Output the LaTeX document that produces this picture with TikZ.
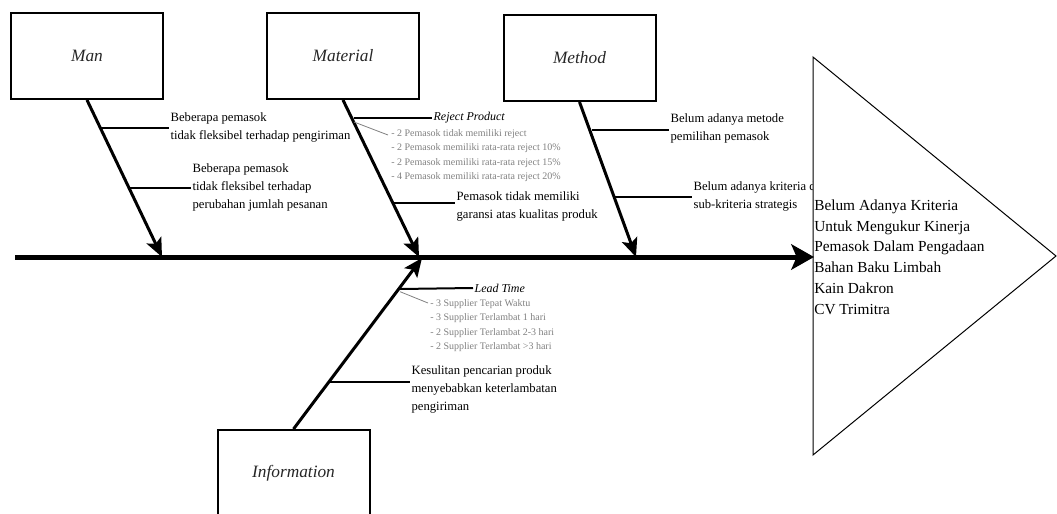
\documentclass[tikz,border=0pt]{standalone}
\usepackage{fontspec}
\setmainfont{Liberation Serif}
\usetikzlibrary{arrows.meta}
\tikzset{
  cause/.style={draw, line width=1.5pt, minimum width=114pt, minimum height=64.5pt,
                font=\fontsize{13}{15}\selectfont\itshape, text=black!85},
  bone/.style={line width=2.25pt, -{Stealth[length=14pt,width=12pt,inset=3pt]}},
  spine/.style={line width=3.75pt, -{Stealth[length=17pt,width=19pt,inset=4pt]}},
  twig/.style={line width=1.5pt},
  why/.style={anchor=west, align=left, inner sep=1pt, font=\fontsize{9.5}{13.5}\selectfont},
  hint/.style={draw=gray, line width=0.6pt},
  hinttxt/.style={anchor=north west, align=left, inner sep=0pt, text=gray,
                  font=\fontsize{7.5}{10.9}\selectfont},
  topic/.style={anchor=west, inner sep=1pt, font=\fontsize{9}{11}\selectfont\itshape}
}
\begin{document}
\begin{tikzpicture}[x=0.75pt,y=-0.75pt]
        \useasboundingbox (0,0) rectangle (1057,514);                   %
        \clip (0,0) rectangle (1057,514);                               %
        \node [cause] (man)      at (87,56)    {Man};                   %
        \node [cause] (material) at (343,56)   {Material};              %
        \node [cause] (method)   at (579.5,58) {Method};                %
        \node [cause] (info)     at (293.5,473){Information};           %
        \coordinate (tail)   at (15,257);                               %spine
        \coordinate (manTip) at (162,257);                              %
        \coordinate (matTip) at (419,257);                              %
        \coordinate (metTip) at (636,257);                              %
        \coordinate (infTip) at (422,258);                              %
        \draw [bone] (man.south)      -- (manTip);                      %
        \draw [bone] (material.south) -- (matTip);                      %
        \draw [bone] (method.south)   -- (metTip);                      %
        \draw [bone] (info.north)     -- (infTip);                      %
        %Man
        \coordinate (manA) at (101,128);                                %
        \coordinate (manB) at (130,188);                                %
        \node [why] (why1) at (169,127) {Beberapa pemasok\\tidak fleksibel terhadap pengiriman};
        \node [why] (why2) at (191,187) {Beberapa pemasok\\tidak fleksibel terhadap\\perubahan jumlah pesanan};
        \draw [twig] (manA) -- (manA -| why1.west);                     %
        \draw [twig] (manB) -- (manB -| why2.west);                     %
        %Material
        \coordinate (matA) at (354,118);                                %
        \coordinate (matB) at (394,203);                                %
        \coordinate (rpEnd) at (388,135);                               %
        \node [topic] (rp) at (432,118) {Reject Product};               %
        \node [hinttxt] (rpList) at (391,129)
              {- 2 Pemasok tidak memiliki reject\\- 2 Pemasok memiliki rata-rata reject 10\%\\%
               - 2 Pemasok memiliki rata-rata reject 15\%\\- 4 Pemasok memiliki rata-rata reject 20\%};
        \node [why] (why3) at (455,206) {Pemasok tidak memiliki\\garansi atas kualitas produk};
        \draw [twig] (matA) -- (rp.west);                               %
        \draw [hint] ([yshift=-3pt]matA) -- (rpEnd);                    %
        \draw [twig] (matB) -- (matB -| why3.west);                     %
        %Method
        \coordinate (metA) at (592,130);                                %
        \coordinate (metB) at (615,197);                                %
        \node [why] (why4) at (669,128) {Belum adanya metode\\pemilihan pemasok};
        \node [why] (why5) at (692,196) {Belum adanya kriteria dan\\sub-kriteria strategis};
        \draw [twig] (metA) -- (metA -| why4.west);                     %
        \draw [twig] (metB) -- (metB -| why5.west);                     %
        %Information
        \coordinate (infA) at (400,289);                                %
        \coordinate (infB) at (330,382);                                %
        \coordinate (ltEnd) at (428,303);                               %
        \node [topic] (lt) at (473,288) {Lead Time};                    %
        \node [hinttxt] (ltList) at (430,299)
              {- 3 Supplier Tepat Waktu\\- 3 Supplier Terlambat 1 hari\\%
               - 2 Supplier Terlambat 2-3 hari\\- 2 Supplier Terlambat >3 hari};
        \node [why] (why6) at (410,389) {Kesulitan pencarian produk\\menyebabkan keterlambatan\\pengiriman};
        \draw [twig] (infA) -- (lt.west);                               %
        \draw [hint] ([yshift=-2pt]infA) -- (ltEnd);                    %
        \draw [twig] (infB) -- (infB -| why6.west);                     %
        %Effect
        \draw [line width=0.75pt, fill=white] (813,57) -- (1056,256) -- (813,455) -- cycle;
        \node [anchor=west, align=left, inner sep=0pt, font=\fontsize{11.5}{15.6}\selectfont]
              (effect) at (814,257)
              {Belum Adanya Kriteria\\Untuk Mengukur Kinerja\\Pemasok Dalam Pengadaan\\%
               Bahan Baku Limbah\\Kain Dakron\\CV Trimitra};
        \draw [spine] (tail) -- (effect.west);                          %
\end{tikzpicture}
\end{document}
